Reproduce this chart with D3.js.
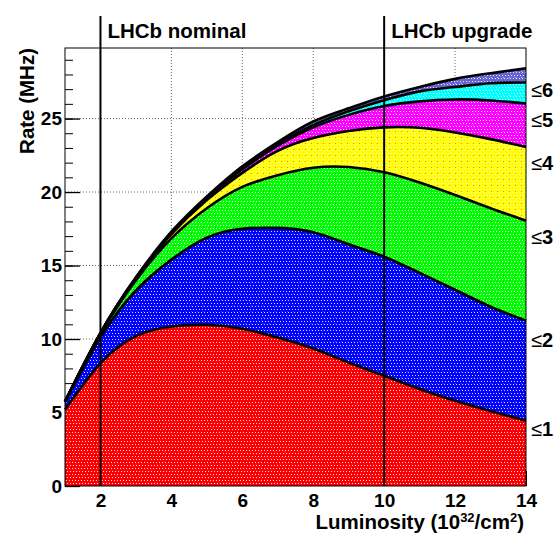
<!DOCTYPE html>
<html>
<head>
<meta charset="utf-8">
<script src="https://cdn.jsdelivr.net/npm/d3@7"></script>
<style>
  body { margin: 0; background: #fff; }
  text { font-family: "Liberation Sans", Arial, Helvetica, sans-serif; font-weight: bold; fill: #000; }
</style>
</head>
<body>
<div id="chart"></div>
<script>
// luminosity points (10^32 / cm^2)
const lumi = [1, 2, 3, 4, 5, 6, 7, 8, 9, 10, 11, 12, 13, 14]

// cumulative rate (MHz) of crossings with <= n interactions
const upTo1 = [5.2, 8.35, 10.2, 10.85, 10.97, 10.7, 10.1, 9.35, 8.4, 7.5, 6.6, 5.8, 5.1, 4.45]
const upTo2 = [5.7, 10.1, 13.3, 15.4, 16.9, 17.5, 17.56, 17.27, 16.45, 15.6, 14.5, 13.35, 12.2, 11.25]
const upTo3 = [5.74, 10.33, 14.0, 16.85, 18.9, 20.35, 21.15, 21.65, 21.7, 21.35, 20.65, 19.8, 18.9, 18.05]
const upTo4 = [5.75, 10.38, 14.13, 17.13, 19.45, 21.3, 22.8, 23.67, 24.15, 24.4, 24.37, 24.05, 23.6, 23.07]
const upTo5 = [5.75, 10.4, 14.16, 17.18, 19.6, 21.55, 23.15, 24.4, 25.25, 25.85, 26.17, 26.3, 26.23, 26.02]
const upTo6 = [5.75, 10.4, 14.16, 17.2, 19.63, 21.62, 23.25, 24.55, 25.5, 26.25, 26.85, 27.15, 27.4, 27.45]
const total = [5.75, 10.42, 14.2, 17.3, 19.7, 21.75, 23.4, 24.8, 25.7, 26.5, 27.15, 27.7, 28.08, 28.42]

const bandColors = ["#ff0000", "#0000ff", "#00ff00", "#ffff00", "#ff00ff", "#00ffff", "#6565d4"]
const bandSpecks = ["#0000ff", "#00cc00", "#ff00ff", "#ff00ff", "#00ffff", "#ffffff", "#ffffff"]

// right hand labels and the rate where they sit
const bandLabels = ["1", "2", "3", "4", "5", "6"]
const bandLabelY = [3.87, 9.93, 16.93, 21.96, 24.88, 26.92]

// vertical markers
const markers = [{ x: 2, label: "LHCb nominal" }, { x: 10, label: "LHCb upgrade" }]

const xTicks = [2, 4, 6, 8, 10, 12, 14]
const yTicks = [0, 5, 10, 15, 20, 25]

const width = 556, height = 533
const plot = { left: 65, right: 526, top: 48, bottom: 486 }

const svg = d3.select('#chart').append('svg')
    .attr('width', width)
    .attr('height', height)

const x = d3.scaleLinear().domain([1, 14]).range([plot.left, plot.right])
const y = d3.scaleLinear().domain([0, 29.8]).range([plot.bottom, plot.top])

// dotted fill patterns like the ROOT ones
const defs = svg.append('defs')
bandColors.forEach((c, i) => {
    const p = defs.append('pattern')
        .attr('id', 'pat' + i)
        .attr('patternUnits', 'userSpaceOnUse')
        .attr('width', 6).attr('height', 6)
    p.append('rect').attr('width', 6).attr('height', 6).attr('fill', c)
    const dots = [[0, 0], [3, 0], [1, 3], [4, 3]]
    dots.forEach(d => p.append('rect').attr('x', d[0]).attr('y', d[1])
        .attr('width', 1).attr('height', 1).attr('fill', '#fff').attr('opacity', 0.85))
    p.append('rect').attr('x', 5).attr('y', 5).attr('width', 1).attr('height', 1)
        .attr('fill', bandSpecks[i]).attr('opacity', 0.6)
})

// dotted grid
const grid = svg.append('g')
grid.selectAll('.gx').data([4, 6, 8, 12]).enter().append('line')
    .attr('x1', d => x(d)).attr('x2', d => x(d))
    .attr('y1', plot.top).attr('y2', plot.bottom)
    .style('stroke', '#666').style('stroke-dasharray', '1,2')
grid.selectAll('.gy').data(yTicks.slice(1)).enter().append('line')
    .attr('x1', plot.left).attr('x2', plot.right)
    .attr('y1', d => y(d)).attr('y2', d => y(d))
    .style('stroke', '#666').style('stroke-dasharray', '1,2')

// y axis, ticks pointing inside
const yAxisMinor = svg.append('g')
    .attr('transform', 'translate(' + plot.left + ',0)')
    .call(d3.axisLeft(y).tickValues(d3.range(0, 30)).tickSize(-8).tickFormat(''))
yAxisMinor.select('.domain').remove()
yAxisMinor.selectAll('line').style('stroke', '#000')

const yAxis = svg.append('g')
    .attr('transform', 'translate(' + plot.left + ',0)')
    .call(d3.axisLeft(y).tickValues(yTicks).tickSize(-15).tickPadding(3))
yAxis.select('.domain').remove()
yAxis.selectAll('line').style('stroke', '#000').style('stroke-width', 1.3)
yAxis.selectAll('text').style('font-size', '19px').style('font-weight', 'bold')
    .attr('font-family', null)

const xAxis = svg.append('g')
    .attr('transform', 'translate(0,' + plot.bottom + ')')
    .call(d3.axisBottom(x).tickValues(xTicks).tickSize(-15).tickPadding(8))
xAxis.select('.domain').remove()
xAxis.selectAll('text').style('font-size', '19px').style('font-weight', 'bold')
    .attr('font-family', null)

// stacked bands between consecutive cumulative curves
const levels = [lumi.map(() => 0), upTo1, upTo2, upTo3, upTo4, upTo5, upTo6, total]
const bands = d3.range(7).map(i => lumi.map((l, j) => ({ l: l, y0: levels[i][j], y1: levels[i + 1][j] })))

const area = d3.area()
    .x(d => x(d.l))
    .y0(d => y(d.y0))
    .y1(d => y(d.y1))
    .curve(d3.curveNatural)

svg.selectAll('.band')
    .data(bands)
    .enter().append('path')
    .attr('class', 'band')
    .attr('d', area)
    .attr('fill', (d, i) => 'url(#pat' + i + ')')
    .attr('stroke', 'none')

const line = d3.line()
    .x(d => x(d.l))
    .y(d => y(d.v))
    .curve(d3.curveNatural)

svg.selectAll('.edge')
    .data(levels.slice(1))
    .enter().append('path')
    .attr('class', 'edge')
    .attr('d', s => line(lumi.map((l, j) => ({ l: l, v: s[j] }))))
    .style('fill', 'none')
    .style('stroke', '#000')
    .style('stroke-width', 2.6)

// frame
svg.append('rect')
    .attr('x', plot.left).attr('y', plot.top)
    .attr('width', plot.right - plot.left).attr('height', plot.bottom - plot.top)
    .style('fill', 'none').style('stroke', '#000').style('stroke-width', 1)

// LHCb nominal / upgrade lines
svg.selectAll('.marker')
    .data(markers)
    .enter().append('line')
    .attr('x1', d => x(d.x)).attr('x2', d => x(d.x))
    .attr('y1', 16).attr('y2', plot.bottom)
    .style('stroke', '#000').style('stroke-width', 2)

svg.selectAll('.marker-label')
    .data(markers)
    .enter().append('text')
    .attr('x', d => x(d.x) + 7)
    .attr('y', 38)
    .text(d => d.label)
    .style('font-size', '20.5px')

// band labels on the right
const bl = svg.selectAll('.band-label')
    .data(bandLabels)
    .enter().append('text')
    .attr('x', 531)
    .attr('y', (d, i) => y(bandLabelY[i]) + 7)
    .style('font-size', '20px')
bl.append('tspan').text('\u2264').style('font-weight', 'normal')
bl.append('tspan').text(d => d)

// axis titles
const xt = svg.append('text')
    .attr('x', 524).attr('y', 529)
    .attr('text-anchor', 'end')
    .style('font-size', '20.5px')
xt.append('tspan').text('Luminosity (10')
xt.append('tspan').text('32').attr('dy', -7).style('font-size', '13px')
xt.append('tspan').text('/cm').attr('dy', 7)
xt.append('tspan').text('2').attr('dy', -7).style('font-size', '13px')
xt.append('tspan').text(')').attr('dy', 7)

svg.append('text')
    .attr('transform', 'translate(34,' + plot.top + ') rotate(-90)')
    .attr('text-anchor', 'end')
    .style('font-size', '20.5px')
    .text('Rate (MHz)')
</script>
</body>
</html>
